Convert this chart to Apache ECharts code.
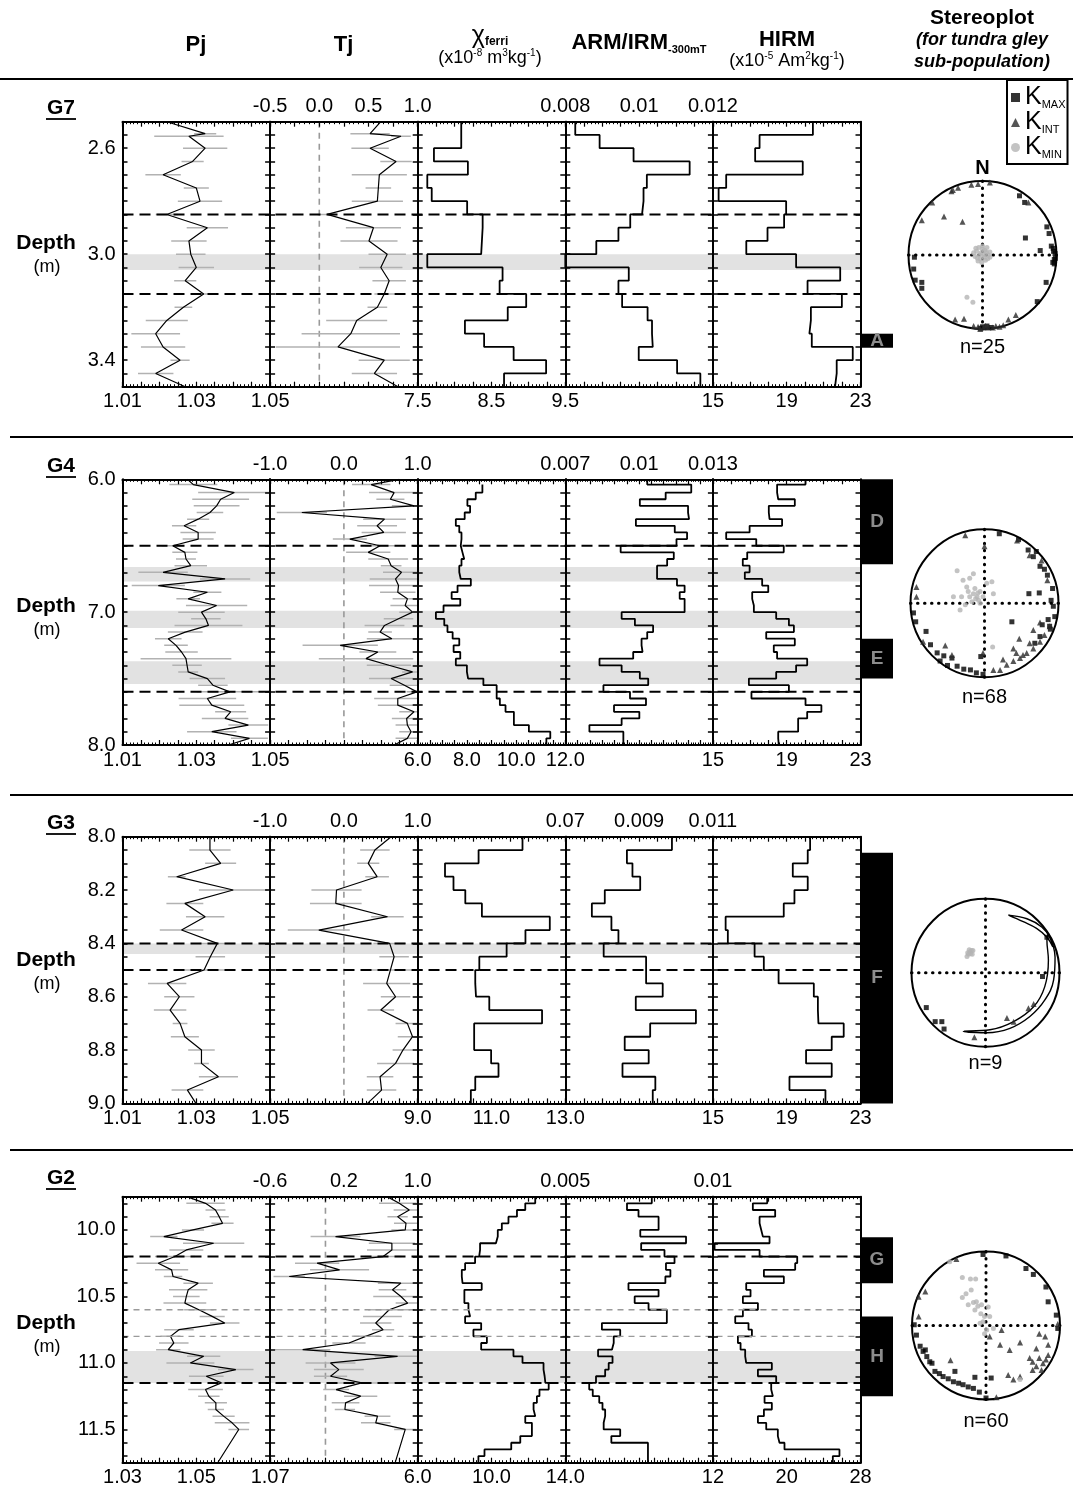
<!DOCTYPE html>
<html><head><meta charset="utf-8">
<script src="https://cdn.jsdelivr.net/npm/echarts@6/dist/echarts.min.js"></script>
<style>html,body{margin:0;padding:0;background:#fff}#c{width:1081px;height:1489px}</style>
</head><body><div id="c"></div>
<script>
// ================= DATA =================
const rowNames = ['G7', 'G4', 'G3', 'G2'];
const stereoN = ['n=25', 'n=68', 'n=9', 'n=60'];

// ---- G7 ----
const g7Depth = [2.5, 2.545, 2.555, 2.6, 2.65, 2.7, 2.75, 2.8, 2.85, 2.9, 2.95, 3.0, 3.05, 3.1, 3.15, 3.2, 3.25, 3.3, 3.35, 3.4, 3.45, 3.5];
const g7Pj = [1.022, 1.0324, 1.028, 1.0324, 1.029, 1.021, 1.030, 1.031, 1.022, 1.033, 1.028, 1.0285, 1.030, 1.027, 1.032, 1.0265, 1.022, 1.019, 1.021, 1.0256, 1.019, 1.027];
const g7PjErr = [0, 0.003, 0.0094, 0.006, 0.003, 0.0048, 0.0034, 0.006, 0.003, 0.0056, 0.0048, 0.004, 0.0048, 0.003, 0.0025, 0.0024, 0.0057, 0.0066, 0.006, 0.0026, 0.0048, 0];
const g7Tj = [0.625, 0.516, 0.83, 0.516, 0.78, 0.61, 0.60, 0.59, 0.08, 0.55, 0.505, 0.69, 0.625, 0.71, 0.66, 0.59, 0.38, 0.32, 0.19, 0.66, 0.56, 0.80];
const g7TjErr = [0, 0.2, 0.1, 0.19, 0.16, 0.28, 0.13, 0.26, 0.1, 0.28, 0.29, 0.19, 0.22, 0.17, 0.1, 0.1, 0.31, 0.5, 0.63, 0.26, 0.23, 0];
const g7ChiBounds = [2.5, 2.6, 2.65, 2.7, 2.75, 2.8, 2.85, 2.9, 3.0, 3.05, 3.1, 3.15, 3.2, 3.25, 3.3, 3.35, 3.4, 3.45, 3.5];
const g7Chi = [8.09, 7.72, 8.18, 7.63, 7.69, 8.17, 8.38, 8.36, 7.63, 8.65, 8.61, 8.97, 8.72, 8.14, 8.40, 8.80, 9.24, 8.67];
const g7StepBounds = [2.5, 2.55, 2.6, 2.65, 2.7, 2.75, 2.8, 2.85, 2.9, 2.95, 3.0, 3.05, 3.1, 3.15, 3.2, 3.25, 3.3, 3.35, 3.4, 3.45, 3.5];
const g7Arm = [0.00827, 0.00893, 0.00985, 0.01137, 0.01021, 0.01012, 0.01008, 0.00976, 0.00944, 0.00884, 0.0080, 0.00972, 0.00944, 0.00954, 0.01023, 0.01035, 0.01037, 0.00999, 0.01103, 0.01166];
const g7Hirm = [20.42, 17.53, 17.29, 19.87, 15.72, 15.31, 18.97, 18.86, 17.96, 16.81, 19.51, 21.90, 20.13, 21.99, 20.31, 20.23, 20.36, 22.58, 21.71, 21.62];
const g7Bands = [[3.0, 3.06]];
const g7Dashes = [2.85, 3.15];
const g7Thin = [];
const g7Zones = [[3.30, 3.353]];
const g7ZoneLabels = ['A'];
const g7DepthLabels = [2.6, 3.0, 3.4];
const g7PjTicks = [[1.01, '1.01'], [1.03, '1.03'], [1.05, '1.05']];
const g7TjTicks = [[-0.5, '-0.5'], [0, '0.0'], [0.5, '0.5'], [1, '1.0']];
const g7ChiTicks = [[7.5, '7.5'], [8.5, '8.5'], [9.5, '9.5']];
const g7ArmTicks = [[0.008, '0.008'], [0.01, '0.01'], [0.012, '0.012']];
const g7HirmTicks = [[15, '15'], [19, '19'], [23, '23']];
const g7Kmax = [[0.50,0.80],[0.57,0.71],[0.87,0.38],[0.90,0.29],[0.58,0.23],[0.78,0.06],[0.955,0.09],[0.98,0.02],[0.985,-0.045],[0.95,-0.10],[0.86,-0.37],[0.74,-0.63],[-0.93,-0.19],[-0.91,-0.34],[-0.82,-0.37],[-0.82,-0.45],[-0.92,-0.03],[0.97,-0.06],[0.96,0.05],[0.0,-0.97],[0.06,-0.96],[-0.03,-0.99],[0.12,-0.98],[0.93,0.12],[0.97,-0.12]];
const g7Kint = [[-0.82,0.47],[-0.52,0.52],[-0.27,0.45],[-0.68,0.71],[-0.40,0.88],[-0.33,0.91],[-0.15,0.95],[-0.06,0.96],[0.10,0.98],[0.62,0.71],[-0.37,-0.87],[-0.25,-0.86],[0.35,-0.87],[0.45,-0.81],[-0.06,-0.97],[0.01,-0.98],[0.08,-0.98],[0.14,-0.98],[0.23,-0.97],[0.28,-0.95],[-0.03,-1.0],[-0.12,-0.96],[0.18,-0.96],[0.04,-0.96],[-0.42,0.86]];
const g7Kmin = [[-0.08,0.05],[-0.05,0.1],[0.0,0.08],[0.05,0.04],[-0.1,-0.02],[-0.03,-0.05],[0.02,0.0],[0.08,0.0],[0.1,-0.03],[-0.06,-0.08],[0.0,0.12],[-0.12,0.03],[0.04,-0.07],[-0.02,0.03],[0.06,0.1],[-0.09,0.09],[0.03,0.06],[-0.04,0.0],[0.07,-0.05],[-0.01,-0.1],[0.1,0.04],[-0.07,-0.04],[0.02,-0.03],[-0.21,-0.57],[-0.13,-0.64]];

// ---- G4 ----
const g4Depth = [6.0, 6.04, 6.1, 6.15, 6.2, 6.25, 6.3, 6.35, 6.4, 6.45, 6.5, 6.55, 6.6, 6.65, 6.7, 6.75, 6.8, 6.85, 6.9, 6.95, 7.0, 7.05, 7.1, 7.15, 7.2, 7.25, 7.3, 7.35, 7.4, 7.45, 7.5, 7.55, 7.6, 7.65, 7.7, 7.75, 7.8, 7.85, 7.9, 7.95, 8.0];
const g4Pj = [1.0276, 1.0292, 1.0403, 1.0366, 1.0355, 1.0337, 1.0305, 1.0267, 1.0305, 1.0305, 1.0236, 1.0269, 1.0272, 1.0285, 1.0210, 1.0378, 1.0197, 1.0330, 1.0278, 1.0355, 1.0314, 1.0326, 1.0333, 1.0270, 1.0224, 1.0245, 1.0260, 1.0272, 1.0275, 1.0278, 1.0330, 1.0345, 1.0391, 1.0330, 1.0342, 1.0393, 1.0378, 1.0441, 1.0342, 1.0444, 1.0387];
const g4PjErr = [0, 0.0065, 0.0098, 0.0077, 0.0062, 0.0036, 0.003, 0.0033, 0.0048, 0.0042, 0.003, 0.0034, 0.0027, 0.0044, 0.0067, 0.0068, 0.0072, 0.0038, 0.0032, 0.0083, 0.0063, 0.004, 0.0092, 0.0047, 0.0036, 0.0032, 0.0044, 0.0123, 0.004, 0.0027, 0.0048, 0.004, 0.009, 0.0078, 0.0088, 0.0042, 0.0063, 0.0054, 0.0067, 0.005, 0];
const g4Tj = [0.75, 0.37, 0.68, 0.63, 0.95, -0.57, 0.55, 0.45, 0.54, 0.08, 0.49, 0.33, 0.60, 0.64, 0.78, 0.70, 0.74, 0.73, 0.86, 0.83, 0.93, 0.74, 0.55, 0.49, 0.65, -0.05, 0.46, 0.30, 0.61, 0.93, 0.64, 0.82, 0.99, 0.73, 0.73, 0.95, 0.85, 0.86, 0.91, 0.86, 0.68];
const g4TjErr = [0, 0.26, 0.34, 0.19, 0.3, 0.34, 0.29, 0.27, 0.3, 0.23, 0.2, 0.3, 0.27, 0.14, 0.25, 0.35, 0.4, 0.24, 0.2, 0.2, 0.18, 0.2, 0.27, 0.16, 0.34, 0.51, 0.25, 0.64, 0.3, 0.14, 0.3, 0.2, 0.14, 0.32, 0.27, 0.2, 0.2, 0.16, 0.16, 0.16, 0];
const g4ChiBounds = [6.04, 6.1, 6.15, 6.2, 6.25, 6.3, 6.35, 6.4, 6.45, 6.5, 6.55, 6.6, 6.65, 6.7, 6.75, 6.8, 6.85, 6.9, 6.95, 7.0, 7.05, 7.1, 7.15, 7.2, 7.25, 7.3, 7.35, 7.4, 7.45, 7.5, 7.55, 7.6, 7.65, 7.7, 7.75, 7.8, 7.85, 7.9, 7.95, 8.0];
const g4Chi = [8.63, 8.36, 8.02, 8.13, 7.91, 7.55, 7.69, 7.78, 7.75, 7.82, 7.89, 7.78, 7.69, 7.75, 8.16, 7.62, 7.38, 7.73, 7.05, 6.74, 7.08, 7.21, 7.42, 7.69, 7.46, 7.73, 7.55, 8.00, 8.05, 8.67, 9.21, 9.21, 9.34, 9.57, 9.91, 9.91, 10.52, 11.39, 11.23];
const g4Arm = [0.01033, 0.01212, 0.01108, 0.01003, 0.01199, 0.01203, 0.00987, 0.01145, 0.01195, 0.01152, 0.00925, 0.01141, 0.01114, 0.01073, 0.01073, 0.01154, 0.01185, 0.01165, 0.01185, 0.01185, 0.00929, 0.00983, 0.01057, 0.01033, 0.01010, 0.01014, 0.00976, 0.00839, 0.00929, 0.01003, 0.01037, 0.00855, 0.00963, 0.01028, 0.00898, 0.01001, 0.00929, 0.00798, 0.00936, 0.00936];
const g4Hirm = [20.02, 18.48, 18.54, 19.44, 18.03, 18.07, 18.75, 16.99, 15.72, 17.35, 18.84, 16.86, 16.62, 16.99, 16.73, 17.67, 18.00, 17.13, 17.22, 17.22, 18.43, 19.12, 19.39, 17.89, 19.44, 18.30, 18.48, 20.11, 19.51, 18.43, 16.95, 19.12, 17.09, 20.02, 20.88, 20.11, 19.62, 19.62, 18.54, 18.57];
const g4Bands = [[6.66, 6.77], [6.99, 7.12], [7.37, 7.54]];
const g4Dashes = [6.5, 7.6];
const g4Thin = [];
const g4Zones = [[6.0, 6.64], [7.2, 7.5]];
const g4ZoneLabels = ['D', 'E'];
const g4DepthLabels = [6.0, 7.0, 8.0];
const g4PjTicks = [[1.01, '1.01'], [1.03, '1.03'], [1.05, '1.05']];
const g4TjTicks = [[-1, '-1.0'], [0, '0.0'], [1, '1.0']];
const g4ChiTicks = [[6, '6.0'], [8, '8.0'], [10, '10.0'], [12, '12.0']];
const g4ArmTicks = [[0.007, '0.007'], [0.01, '0.01'], [0.013, '0.013']];
const g4HirmTicks = [[15, '15'], [19, '19'], [23, '23']];
const g4Kmax = [[0.20,0.94],[0.46,0.86],[0.59,0.72],[0.66,0.63],[0.75,0.50],[0.81,0.46],[0.85,0.38],[0.60,0.13],[0.74,0.14],[0.90,0.04],[0.93,-0.04],[0.95,-0.18],[0.86,-0.22],[0.78,-0.29],[0.88,-0.31],[0.75,-0.45],[0.68,-0.54],[-0.96,-0.13],[-0.93,-0.25],[-0.79,-0.38],[-0.73,-0.56],[-0.64,-0.67],[-0.55,-0.71],[-0.44,-0.74],[-0.37,-0.85],[-0.28,-0.89],[-0.19,-0.90],[-0.11,-0.94],[-0.02,-0.96],[-0.05,-0.72],[0.37,-0.25],[0.92,0.2],[0.89,-0.35],[-0.6,-0.78],[-0.5,-0.84],[0.7,0.7]];
const g4Kint = [[-0.26,0.92],[0.0,0.77],[0.44,0.85],[0.61,0.65],[0.77,0.58],[0.85,0.31],[-0.92,0.22],[-0.92,0.09],[-0.83,-0.52],[-0.53,-0.57],[-0.44,-0.70],[0.12,-0.90],[-0.02,-0.67],[0.39,-0.61],[0.47,-0.48],[0.66,-0.36],[0.75,-0.26],[0.21,-0.90],[0.30,-0.83],[0.39,-0.78],[0.48,-0.74],[0.57,-0.67],[0.66,-0.61],[0.75,-0.52],[0.81,-0.43],[0.88,-0.31],[0.25,-0.76],[0.43,-0.67],[0.61,-0.54],[0.52,-0.70]];
const g4Kmin = [[-0.15,0.13],[-0.10,0.09],[-0.20,0.09],[-0.06,0.16],[-0.24,0.22],[-0.29,0.31],[-0.37,0.44],[-0.15,0.40],[-0.20,0.34],[0.03,0.27],[0.10,0.29],[-0.33,-0.09],[-0.26,-0.02],[-0.08,0.04],[-0.02,0.09],[-0.13,0.20],[0.12,0.13],[-0.22,0.16],[-0.06,0.0],[0.11,-0.59],[-0.42,0.09],[-0.31,0.09],[-0.12,0.06],[-0.17,0.02],[-0.09,0.14]];

// ---- G3 ----
const g3Depth = [8.0, 8.05, 8.1, 8.15, 8.2, 8.25, 8.3, 8.35, 8.4, 8.45, 8.5, 8.55, 8.6, 8.65, 8.7, 8.75, 8.8, 8.85, 8.9, 8.95, 9.0];
const g3Pj = [1.0337, 1.0337, 1.0366, 1.0247, 1.0400, 1.0269, 1.0324, 1.0260, 1.0357, 1.0338, 1.0321, 1.0221, 1.0254, 1.0229, 1.0256, 1.0269, 1.0314, 1.0314, 1.0360, 1.0276, 1.0299];
const g3PjErr = [0, 0.0056, 0.0042, 0.0024, 0.0093, 0.005, 0.0052, 0.0059, 0.0048, 0.004, 0.0057, 0.0052, 0.0041, 0.0044, 0.002, 0.0038, 0.0036, 0.002, 0.0053, 0.0043, 0];
const g3Tj = [0.64, 0.42, 0.33, 0.45, -0.10, -0.11, 0.59, -0.34, 0.62, 0.68, 0.63, 0.58, 0.70, 0.50, 0.86, 0.93, 0.80, 0.70, 0.49, 0.51, 0.32];
const g3TjErr = [0, 0.2, 0.15, 0.16, 0.34, 0.35, 0.22, 0.42, 0.22, 0.2, 0.29, 0.32, 0.2, 0.18, 0.16, 0.2, 0.14, 0.25, 0.18, 0.2, 0];
const g3Chi = [11.84, 10.65, 9.74, 9.97, 10.29, 10.74, 12.58, 11.92, 11.41, 10.67, 10.56, 10.58, 10.94, 12.37, 10.53, 10.53, 10.99, 11.19, 10.56, 10.44];
const g3Arm = [0.00989, 0.00867, 0.00882, 0.00903, 0.00807, 0.00772, 0.00825, 0.00844, 0.00804, 0.00919, 0.00919, 0.00964, 0.00891, 0.01054, 0.00930, 0.00861, 0.00926, 0.00855, 0.00944, 0.00937];
const g3Hirm = [20.27, 20.14, 19.33, 20.14, 19.42, 18.84, 15.69, 15.81, 17.26, 17.76, 18.56, 20.47, 20.69, 20.72, 22.09, 21.44, 20.05, 21.44, 19.15, 21.10];
const g3Bands = [[8.40, 8.44]];
const g3Dashes = [8.4, 8.5];
const g3Thin = [];
const g3Zones = [[8.06, 9.0]];
const g3ZoneLabels = ['F'];
const g3DepthLabels = [8.0, 8.2, 8.4, 8.6, 8.8, 9.0];
const g3PjTicks = [[1.01, '1.01'], [1.03, '1.03'], [1.05, '1.05']];
const g3TjTicks = [[-1, '-1.0'], [0, '0.0'], [1, '1.0']];
const g3ChiTicks = [[9, '9.0'], [11, '11.0'], [13, '13.0']];
const g3ArmTicks = [[0.007, '0.07'], [0.009, '0.009'], [0.011, '0.011']];
const g3HirmTicks = [[15, '15'], [19, '19'], [23, '23']];
const g3Kmax = [[-0.80,-0.47],[-0.68,-0.66],[-0.59,-0.66],[-0.56,-0.76],[0.77,-0.05],[0.83,0.48]];
const g3Kint = [[0.29,-0.61],[0.38,-0.66],[0.58,-0.48],[0.65,-0.42],[-0.15,-0.87]];
const g3Kmin = [[-0.21,0.28],[-0.19,0.30],[-0.23,0.25],[-0.25,0.22],[-0.20,0.26],[-0.17,0.30],[-0.22,0.31],[-0.24,0.27],[-0.18,0.25]];
const g3Conf1 = [[0.31,0.78],[0.56,0.73],[0.76,0.62],[0.87,0.48],[0.91,0.35],[0.83,0.48],[0.69,0.60],[0.51,0.69],[0.31,0.78]];
const g3Conf2 = [[0.85,0.53],[0.94,0.21],[0.92,-0.10],[0.80,-0.37],[0.60,-0.59],[0.33,-0.75],[0.02,-0.81],[-0.30,-0.79],[0.06,-0.77],[0.38,-0.66],[0.65,-0.46],[0.80,-0.19],[0.85,0.17],[0.83,0.44],[0.85,0.53]];

// ---- G2 ----
const g2Depth = [9.755, 9.8, 9.85, 9.9, 9.95, 10.0, 10.05, 10.1, 10.15, 10.2, 10.25, 10.3, 10.35, 10.4, 10.45, 10.5, 10.55, 10.6, 10.65, 10.7, 10.75, 10.8, 10.85, 10.9, 10.95, 11.0, 11.05, 11.1, 11.15, 11.2, 11.25, 11.3, 11.35, 11.4, 11.45, 11.5, 11.75];
const g2Pj = [1.0480, 1.0525, 1.0552, 1.0562, 1.0571, 1.0491, 1.0412, 1.0547, 1.0473, 1.0442, 1.0397, 1.0433, 1.0437, 1.0505, 1.0478, 1.0473, 1.0469, 1.0507, 1.0543, 1.0577, 1.0453, 1.0430, 1.0439, 1.0424, 1.0520, 1.0484, 1.0607, 1.0527, 1.0568, 1.0525, 1.0534, 1.0553, 1.0553, 1.0574, 1.0597, 1.0615, 1.0558];
const g2PjErr = [0, 0.0052, 0.0027, 0.0026, 0.003, 0.003, 0.0037, 0.0083, 0.0046, 0.0054, 0.0059, 0.0045, 0.0025, 0.004, 0.0052, 0.0036, 0.0058, 0.004, 0.0034, 0.004, 0.004, 0.0027, 0.004, 0.0033, 0.0045, 0.0065, 0.0048, 0.0047, 0.0024, 0.0047, 0.0029, 0.003, 0.0022, 0.003, 0.0047, 0.0028, 0];
const g2Tj = [0.684, 0.80, 0.909, 0.782, 0.873, 0.865, 0.109, 0.72, 0.72, 0.625, -0.09, 0.153, -0.393, 0.818, 0.727, 0.818, 0.891, 0.691, 0.618, 0.545, 0.625, 0.436, 0.255, -0.247, 0.782, 0.055, 0.145, 0.055, 0.393, 0.116, 0.382, 0.218, 0.211, 0.564, 0.545, 0.865, 0.756];
const g2TjErr = [0, 0.22, 0.17, 0.11, 0.13, 0.15, 0.27, 0.25, 0.27, 0.2, 0.24, 0.32, 0.17, 0.25, 0.15, 0.3, 0.13, 0.23, 0.21, 0.17, 0.12, 0.15, 0.18, 0.3, 0.25, 0.27, 0.27, 0.18, 0.35, 0.14, 0.18, 0.15, 0.11, 0.14, 0.16, 0.12, 0];
const g2StepBounds = [9.755, 9.8, 9.85, 9.9, 9.95, 10.0, 10.05, 10.1, 10.15, 10.2, 10.25, 10.3, 10.35, 10.4, 10.45, 10.5, 10.55, 10.6, 10.65, 10.7, 10.75, 10.8, 10.85, 10.9, 10.95, 11.0, 11.05, 11.1, 11.15, 11.2, 11.25, 11.3, 11.35, 11.4, 11.45, 11.5, 11.55, 11.6, 11.65, 11.7, 11.75];
const g2Chi = [12.37, 11.83, 11.38, 10.92, 10.56, 10.34, 10.24, 9.38, 9.33, 9.11, 8.57, 8.39, 8.43, 9.47, 8.53, 8.53, 8.75, 8.84, 8.57, 9.44, 9.02, 9.75, 9.44, 11.19, 11.68, 12.82, 12.88, 12.92, 13.10, 12.6, 12.46, 12.28, 12.37, 11.83, 12.19, 12.19, 11.56, 11.07, 9.62, 9.29];
const g2Arm = [0.00793, 0.00709, 0.00748, 0.00816, 0.00816, 0.00754, 0.00909, 0.00757, 0.00836, 0.00870, 0.00841, 0.00856, 0.00839, 0.00714, 0.00816, 0.00735, 0.00782, 0.00844, 0.00844, 0.00624, 0.00686, 0.00664, 0.00658, 0.00611, 0.00660, 0.00647, 0.00635, 0.00604, 0.00581, 0.00593, 0.00615, 0.00626, 0.00635, 0.0063, 0.0063, 0.00686, 0.00656, 0.0078, 0.0078, 0.0078];
const g2Hirm = [17.89, 16.33, 18.75, 17.06, 17.24, 17.42, 18.14, 12.18, 17.06, 21.14, 20.92, 17.53, 19.69, 15.61, 16.08, 15.25, 16.88, 15.25, 14.42, 15.86, 16.23, 14.71, 15.0, 15.5, 15.61, 18.39, 16.88, 18.86, 18.32, 18.5, 17.6, 18.39, 17.53, 16.88, 17.78, 19.04, 19.22, 19.76, 25.72, 25.0];
const g2Bands = [[10.91, 11.15]];
const g2Dashes = [10.2, 11.15];
const g2Thin = [10.6, 10.8];
const g2Zones = [[10.055, 10.40], [10.65, 11.25]];
const g2ZoneLabels = ['G', 'H'];
const g2DepthLabels = [10.0, 10.5, 11.0, 11.5];
const g2PjTicks = [[1.03, '1.03'], [1.05, '1.05'], [1.07, '1.07']];
const g2TjTicks = [[-0.6, '-0.6'], [0.2, '0.2'], [1, '1.0']];
const g2ChiTicks = [[6, '6.0'], [10, '10.0'], [14, '14.0']];
const g2ArmTicks = [[0.005, '0.005'], [0.01, '0.01']];
const g2HirmTicks = [[12, '12'], [20, '20'], [28, '28']];
const g2Kmax = [[-0.04,0.96],[0.27,0.94],[0.54,0.77],[0.64,0.69],[0.81,0.52],[0.84,0.32],[0.95,0.14],[0.97,-0.04],[-0.97,0.01],[-0.94,-0.13],[-0.89,-0.28],[-0.85,-0.35],[-0.80,-0.42],[-0.76,-0.49],[-0.69,-0.62],[-0.63,-0.65],[-0.58,-0.69],[-0.51,-0.72],[-0.44,-0.76],[-0.37,-0.78],[-0.31,-0.80],[-0.24,-0.83],[-0.17,-0.85],[-0.09,-0.90],[-0.42,-0.62],[-0.15,-0.70],[0.07,-0.71],[-0.73,-0.51],[-0.82,-0.33],[0.0,-0.98]];
const g2Kint = [[-0.91,0.39],[-0.82,0.46],[-0.48,-0.47],[0.05,-0.15],[0.21,-0.06],[0.19,-0.26],[0.32,-0.33],[0.46,-0.23],[0.72,-0.11],[0.80,-0.15],[0.84,-0.26],[0.68,-0.31],[0.59,-0.44],[0.63,-0.49],[0.72,-0.44],[0.77,-0.51],[0.81,-0.46],[0.68,-0.55],[0.75,-0.60],[0.63,-0.60],[0.84,-0.40],[0.30,-0.67],[0.37,-0.73],[0.46,-0.69],[0.14,-0.97],[-0.91,0.12],[0.97,0.02],[-0.4,0.9]];
const g2Kmin = [[-0.49,0.86],[-0.32,0.65],[-0.21,0.63],[-0.14,0.63],[-0.27,0.43],[-0.32,0.38],[-0.24,0.28],[-0.17,0.31],[-0.11,0.26],[-0.07,0.16],[-0.02,0.12],[-0.15,0.21],[-0.06,0.28],[0.03,0.25],[0.05,0.12],[-0.04,0.05],[0.01,-0.06],[-0.02,-0.11],[0.10,-0.04],[-0.20,0.48],[0.46,-0.73],[-0.08,0.03],[-0.13,0.32]];

// ================= LAYOUT / STYLE =================
const FONT = "'Liberation Sans', Arial, Helvetica, sans-serif";
const BOLDN = "'Liberation Sans Narrow', 'Liberation Sans', Arial, sans-serif";
const rowTop = [121.7, 479.3, 836.7, 1196.7];
const rowH = [265, 265.7, 266.7, 266];
const panelX = [122.5, 270.1, 417.7, 565.3, 712.9];
const panelW = 147.6;
const zoneX = 861, zoneW = 32;
const stereoC = [[982.5, 255], [984.5, 603.3], [985.5, 972.8], [986, 1325.5]];
const stereoR = 74;

const rows = [
  {dmin: 2.5, dmax: 3.5, dtick0: 2.5, dstep: 0.05, dlabels: g7DepthLabels, depth: g7Depth, pj: g7Pj, pjErr: g7PjErr, tj: g7Tj, tjErr: g7TjErr,
   steps: [[g7ChiBounds, g7Chi], [g7StepBounds, g7Arm], [g7StepBounds, g7Hirm]],
   ax: [{min: 1.01, max: 1.05, iv: 0.005, lab: g7PjTicks, pos: 'bottom'}, {min: -0.5, max: 1, iv: 0.25, lab: g7TjTicks, pos: 'top'},
        {min: 7.5, max: 9.5, iv: 0.25, lab: g7ChiTicks, pos: 'bottom'}, {min: 0.008, max: 0.012, iv: 0.0005, lab: g7ArmTicks, pos: 'top'},
        {min: 15, max: 23, iv: 1, lab: g7HirmTicks, pos: 'bottom'}],
   bands: g7Bands, dashes: g7Dashes, thin: g7Thin, zones: g7Zones, zoneLabels: g7ZoneLabels, kmax: g7Kmax, kint: g7Kint, kmin: g7Kmin, conf: []},
  {dmin: 6.0, dmax: 8.0, dtick0: 6.0, dstep: 0.1, dlabels: g4DepthLabels, depth: g4Depth, pj: g4Pj, pjErr: g4PjErr, tj: g4Tj, tjErr: g4TjErr,
   steps: [[g4ChiBounds, g4Chi], [g4Depth, g4Arm], [g4Depth, g4Hirm]],
   ax: [{min: 1.01, max: 1.05, iv: 0.005, lab: g4PjTicks, pos: 'bottom'}, {min: -1, max: 1, iv: 0.25, lab: g4TjTicks, pos: 'top'},
        {min: 6, max: 12, iv: 0.5, lab: g4ChiTicks, pos: 'bottom'}, {min: 0.007, max: 0.013, iv: 0.0005, lab: g4ArmTicks, pos: 'top'},
        {min: 15, max: 23, iv: 1, lab: g4HirmTicks, pos: 'bottom'}],
   bands: g4Bands, dashes: g4Dashes, thin: g4Thin, zones: g4Zones, zoneLabels: g4ZoneLabels, kmax: g4Kmax, kint: g4Kint, kmin: g4Kmin, conf: []},
  {dmin: 8.0, dmax: 9.0, dtick0: 8.0, dstep: 0.05, dlabels: g3DepthLabels, depth: g3Depth, pj: g3Pj, pjErr: g3PjErr, tj: g3Tj, tjErr: g3TjErr,
   steps: [[g3Depth, g3Chi], [g3Depth, g3Arm], [g3Depth, g3Hirm]],
   ax: [{min: 1.01, max: 1.05, iv: 0.005, lab: g3PjTicks, pos: 'bottom'}, {min: -1, max: 1, iv: 0.25, lab: g3TjTicks, pos: 'top'},
        {min: 9, max: 13, iv: 0.5, lab: g3ChiTicks, pos: 'bottom'}, {min: 0.007, max: 0.011, iv: 0.0005, lab: g3ArmTicks, pos: 'top'},
        {min: 15, max: 23, iv: 1, lab: g3HirmTicks, pos: 'bottom'}],
   bands: g3Bands, dashes: g3Dashes, thin: g3Thin, zones: g3Zones, zoneLabels: g3ZoneLabels, kmax: g3Kmax, kint: g3Kint, kmin: g3Kmin, conf: [g3Conf1, g3Conf2]},
  {dmin: 9.75, dmax: 11.75, dtick0: 9.8, dstep: 0.1, dlabels: g2DepthLabels, depth: g2Depth, pj: g2Pj, pjErr: g2PjErr, tj: g2Tj, tjErr: g2TjErr,
   steps: [[g2StepBounds, g2Chi], [g2StepBounds, g2Arm], [g2StepBounds, g2Hirm]],
   ax: [{min: 1.03, max: 1.07, iv: 0.005, lab: g2PjTicks, pos: 'bottom'}, {min: -0.6, max: 1, iv: 0.2, lab: g2TjTicks, pos: 'top'},
        {min: 6, max: 14, iv: 1, lab: g2ChiTicks, pos: 'bottom'}, {min: 0.005, max: 0.01, iv: 0.0005, lab: g2ArmTicks, pos: 'top'},
        {min: 12, max: 28, iv: 2, lab: g2HirmTicks, pos: 'bottom'}],
   bands: g2Bands, dashes: g2Dashes, thin: g2Thin, zones: g2Zones, zoneLabels: g2ZoneLabels, kmax: g2Kmax, kint: g2Kint, kmin: g2Kmin, conf: []}
];

// ================= BUILD =================
const grids = [], xAxes = [], yAxes = [], series = [], polar = [], angleAxis = [], radiusAxis = [];
function addGrid(g) { grids.push(Object.assign({show: false, containLabel: false, outerBoundsMode: 'none'}, g)); return grids.length - 1; }

function xAx(gi, a, pos, showLabels) {
  return {type: 'value', gridIndex: gi, position: pos, min: a.min, max: a.max, interval: a.iv, z: 5,
    axisLine: {show: true, onZero: false, lineStyle: {color: '#000', width: 2}},
    axisTick: {show: true, inside: true, length: 5, lineStyle: {color: '#000', width: 1.2}},
    minorTick: {show: true, splitNumber: 5, length: 2.5, lineStyle: {color: '#000', width: 1}},
    splitLine: {show: false},
    axisLabel: showLabels ? {show: true, customValues: a.lab.map(p => p[0]),
      formatter: v => { const p = a.lab.find(q => Math.abs(q[0] - v) < 1e-9); return p ? p[1] : ''; },
      fontSize: 20, fontFamily: FONT, color: '#000', margin: 5} : {show: false}};
}
function yAx(gi, r, pos, showLabels) {
  return {type: 'value', gridIndex: gi, position: pos, inverse: true, min: r.dmin, max: r.dmax, z: 5,
    axisLine: {show: true, onZero: false, lineStyle: {color: '#000', width: 2}},
    axisTick: {show: true, inside: true, length: 5, customValues: r.dticks, lineStyle: {color: '#000', width: 1.5}},
    splitLine: {show: false},
    axisLabel: showLabels ? {show: true, customValues: r.dlabels, formatter: v => v.toFixed(1),
      fontSize: 20, fontFamily: FONT, color: '#000', margin: 7} : {show: false}};
}
function errRender(params, api) {
  const v = api.value(0), d = api.value(1), e = api.value(2);
  if (!e) return null;
  const a = api.coord([v - e, d]), b = api.coord([v + e, d]);
  return {type: 'line', shape: {x1: a[0], y1: a[1], x2: b[0], y2: b[1]}, style: {stroke: '#b2b2b2', lineWidth: 1.5}};
}
function bandRender(params, api) {
  const cs = params.coordSys;
  const y1 = api.coord([0.5, api.value(1)])[1], y2 = api.coord([0.5, api.value(2)])[1];
  return {type: 'rect', shape: {x: cs.x, y: Math.min(y1, y2), width: cs.width, height: Math.abs(y2 - y1)}, style: {fill: '#e2e2e2'}};
}
function hlineRender(params, api) {
  const cs = params.coordSys;
  const y = api.coord([0.5, api.value(1)])[1];
  const thin = api.value(2) === 1;
  return {type: 'line', shape: {x1: cs.x, y1: y, x2: cs.x + cs.width, y2: y},
    style: {stroke: thin ? '#9a9a9a' : '#000', lineWidth: thin ? 1.3 : 2, lineDash: thin ? [6, 5] : [11, 6]}};
}
function zeroRender(params, api) {
  const cs = params.coordSys;
  const x = api.coord([0, api.value(1)])[0];
  return {type: 'line', shape: {x1: x, y1: cs.y, x2: x, y2: cs.y + cs.height}, style: {stroke: '#999', lineWidth: 1.6, lineDash: [6, 5]}};
}
function zoneRender(labels) {
  return function (params, api) {
    const cs = params.coordSys;
    const y1 = api.coord([0.5, api.value(1)])[1], y2 = api.coord([0.5, api.value(2)])[1];
    return {type: 'group', children: [
      {type: 'rect', shape: {x: cs.x, y: y1, width: cs.width, height: y2 - y1}, style: {fill: '#000'}},
      {type: 'text', x: cs.x + cs.width / 2, y: (y1 + y2) / 2,
       style: {text: labels[params.dataIndex], fill: '#8c8c8c', font: 'bold 19px ' + FONT, textAlign: 'center', textVerticalAlign: 'middle', align: 'center', verticalAlign: 'middle'}}
    ]};
  };
}
function stepData(bounds, vals) {
  const out = vals.map((v, i) => [v, bounds[i]]);
  out.push([vals[vals.length - 1], bounds[vals.length]]);
  return out;
}

rows.forEach((r, ri) => {
  const top = rowTop[ri], h = rowH[ri];
  r.dticks = [];
  for (let v = r.dtick0; v <= r.dmax + 1e-9; v += r.dstep) r.dticks.push(+v.toFixed(3));

  // overlay (bands + dashed lines)
  const og = addGrid({left: panelX[0], top: top, width: panelX[4] + panelW - panelX[0], height: h});
  const ox = xAxes.push({type: 'value', gridIndex: og, min: 0, max: 1, show: false}) - 1;
  const oy = yAxes.push({type: 'value', gridIndex: og, min: r.dmin, max: r.dmax, inverse: true, show: false}) - 1;
  series.push({type: 'custom', xAxisIndex: ox, yAxisIndex: oy, silent: true, z: 1, renderItem: bandRender,
    encode: {x: 0, y: [1, 2]}, data: r.bands.map(b => [0.5, b[0], b[1]])});
  series.push({type: 'custom', xAxisIndex: ox, yAxisIndex: oy, silent: true, z: 4, renderItem: hlineRender,
    encode: {x: 0, y: 1}, data: r.dashes.map(d => [0.5, d, 0]).concat(r.thin.map(d => [0.5, d, 1]))});

  for (let p = 0; p < 5; p++) {
    const gi = addGrid({left: panelX[p], top: top, width: panelW, height: h});
    const a = r.ax[p];
    const xb = xAxes.push(xAx(gi, a, 'bottom', a.pos === 'bottom')) - 1;
    xAxes.push(xAx(gi, a, 'top', a.pos === 'top'));
    const yl = yAxes.push(yAx(gi, r, 'left', p === 0)) - 1;
    yAxes.push(yAx(gi, r, 'right', false));
    if (p < 2) {
      const vals = p === 0 ? r.pj : r.tj, errs = p === 0 ? r.pjErr : r.tjErr;
      if (p === 1) {
        series.push({type: 'custom', xAxisIndex: xb, yAxisIndex: yl, silent: true, z: 1.5, renderItem: zeroRender,
          encode: {x: 0, y: 1}, data: [[0, r.dmin]]});
      }
      series.push({type: 'custom', xAxisIndex: xb, yAxisIndex: yl, silent: true, z: 2, clip: true, renderItem: errRender,
        encode: {x: 0, y: 1}, data: r.depth.map((d, i) => [vals[i], d, errs[i]])});
      series.push({type: 'line', xAxisIndex: xb, yAxisIndex: yl, silent: true, z: 3, symbol: 'none', clip: true,
        lineStyle: {color: '#000', width: 1.2}, data: r.depth.map((d, i) => [vals[i], d])});
    } else {
      const s = r.steps[p - 2];
      series.push({type: 'line', xAxisIndex: xb, yAxisIndex: yl, silent: true, z: 3, symbol: 'none', step: 'start', clip: true,
        lineStyle: {color: '#000', width: 1.8}, data: stepData(s[0], s[1])});
    }
  }

  // zone bars
  const zg = addGrid({left: zoneX, top: top, width: zoneW, height: h});
  const zx = xAxes.push({type: 'value', gridIndex: zg, min: 0, max: 1, show: false}) - 1;
  const zy = yAxes.push({type: 'value', gridIndex: zg, min: r.dmin, max: r.dmax, inverse: true, show: false}) - 1;
  series.push({type: 'custom', xAxisIndex: zx, yAxisIndex: zy, silent: true, z: 3, renderItem: zoneRender(r.zoneLabels),
    encode: {x: 0, y: [1, 2]}, data: r.zones.map(z => [0.5, z[0], z[1]])});

  // stereoplot
  const c = stereoC[ri];
  polar.push({center: c, radius: stereoR});
  angleAxis.push({polarIndex: ri, type: 'value', min: 0, max: 360, interval: 90, startAngle: 90, clockwise: true, z: 1,
    axisLine: {show: true, lineStyle: {color: '#000', width: 2}}, axisTick: {show: false}, axisLabel: {show: false},
    splitLine: {show: true, lineStyle: {color: '#000', width: 3, type: [0.5, 6.5], cap: 'round'}}});
  radiusAxis.push({polarIndex: ri, type: 'value', min: 0, max: 1, axisLine: {show: false}, axisTick: {show: false},
    axisLabel: {show: false}, splitLine: {show: false}});
  const sg = addGrid({left: c[0] - stereoR, top: c[1] - stereoR, width: 2 * stereoR, height: 2 * stereoR});
  const sx = xAxes.push({type: 'value', gridIndex: sg, min: -1, max: 1, show: false}) - 1;
  const sy = yAxes.push({type: 'value', gridIndex: sg, min: -1, max: 1, show: false}) - 1;
  r.conf.forEach(cf => series.push({type: 'line', name: 'conf', xAxisIndex: sx, yAxisIndex: sy, silent: true, z: 3, symbol: 'none',
    smooth: 0.4, lineStyle: {color: '#000', width: 1.4}, data: cf}));
  series.push({type: 'scatter', name: 'KMAX', xAxisIndex: sx, yAxisIndex: sy, symbol: 'rect', symbolSize: 5, z: 4,
    itemStyle: {color: '#000'}, data: r.kmax});
  series.push({type: 'scatter', name: 'KINT', xAxisIndex: sx, yAxisIndex: sy, symbol: 'triangle', symbolSize: 6, z: 4,
    itemStyle: {color: '#2a2a2a'}, data: r.kint});
  series.push({type: 'scatter', name: 'KMIN', xAxisIndex: sx, yAxisIndex: sy, symbol: 'circle', symbolSize: 5, z: 4,
    itemStyle: {color: '#b4b4b4'}, data: r.kmin});
});

// ================= TEXT GRAPHICS =================
function T(x, y, text, style) {
  return {type: 'text', x: x, y: y, z: 10, silent: true,
    style: Object.assign({text: text, fill: '#000', fontSize: 20, fontFamily: FONT, textAlign: 'center', textVerticalAlign: 'middle', align: 'center', verticalAlign: 'middle'}, style || {})};
}
function L(x1, y1, x2, y2, w) {
  return {type: 'line', z: 10, silent: true, shape: {x1: x1, y1: y1, x2: x2, y2: y2}, style: {stroke: '#000', lineWidth: w || 2}};
}
const gfx = [
  L(0, 79, 1073, 79), L(10, 437, 1073, 437), L(10, 795, 1073, 795), L(10, 1150, 1073, 1150),
  T(196, 45, 'Pj', {fontSize: 22, fontWeight: 'bold', fontFamily: BOLDN}),
  T(343.5, 45, 'Tj', {fontSize: 22, fontWeight: 'bold', fontFamily: BOLDN}),
  T(490, 36, '{a|χ}{b|ferri}', {rich: {a: {fontSize: 25, fontFamily: FONT}, b: {fontSize: 12, fontWeight: 'bold', fontFamily: BOLDN, padding: [12, 0, 0, 0]}}}),
  T(490, 58, '(x10{s|-8} m{s|3}kg{s|-1})', {fontSize: 18, fontFamily: BOLDN, rich: {s: {fontSize: 10, fontFamily: BOLDN, padding: [0, 0, 9, 0]}}}),
  T(639, 43, '{a|ARM/IRM}{b|-300mT}', {rich: {a: {fontSize: 22, fontWeight: 'bold', fontFamily: BOLDN}, b: {fontSize: 11, fontWeight: 'bold', fontFamily: BOLDN, padding: [14, 0, 0, 0]}}}),
  T(787, 40, 'HIRM', {fontSize: 22, fontWeight: 'bold', fontFamily: BOLDN}),
  T(787, 61, '(x10{s|-5} Am{s|2}kg{s|-1})', {fontSize: 18, fontFamily: BOLDN, rich: {s: {fontSize: 10, fontFamily: BOLDN, padding: [0, 0, 9, 0]}}}),
  T(982, 18, 'Stereoplot', {fontSize: 21, fontWeight: 'bold', fontFamily: BOLDN}),
  T(982, 40, '(for tundra gley', {fontSize: 18, fontWeight: 'bold', fontStyle: 'italic', fontFamily: BOLDN}),
  T(982, 62, 'sub-population)', {fontSize: 18, fontWeight: 'bold', fontStyle: 'italic', fontFamily: BOLDN}),
  T(982.5, 168, 'N', {fontSize: 20, fontWeight: 'bold'})
];
const rowLabelY = [108, 466, 823, 1178];
const depthLabelY = [243, 606, 960, 1323];
const nLabelY = [347, 697, 1063, 1421];
rowNames.forEach((n, i) => {
  gfx.push(T(61, rowLabelY[i], n, {fontSize: 21, fontWeight: 'bold', fontFamily: BOLDN}));
  gfx.push(L(46, rowLabelY[i] + 11, 76, rowLabelY[i] + 11, 1.8));
  gfx.push(T(46, depthLabelY[i], 'Depth', {fontSize: 21, fontWeight: 'bold', fontFamily: BOLDN}));
  gfx.push(T(47, depthLabelY[i] + 24, '(m)', {fontSize: 18}));
  gfx.push(T(stereoC[i][0], nLabelY[i], stereoN[i], {fontSize: 20}));
});

const option = {
  animation: false,
  backgroundColor: '#fff',
  grid: grids, xAxis: xAxes, yAxis: yAxes, polar: polar, angleAxis: angleAxis, radiusAxis: radiusAxis,
  legend: {
    show: true, orient: 'vertical', left: 1007, top: 80, selectedMode: false,
    data: [{name: 'KMAX', icon: 'rect'}, {name: 'KINT', icon: 'triangle'}, {name: 'KMIN', icon: 'circle'}],
    itemWidth: 9, itemHeight: 9, itemGap: 0, padding: [5, 2, 4, 4],
    borderColor: '#000', borderWidth: 2, backgroundColor: '#fff',
    formatter: n => '{k|K}{s|' + n.slice(1) + '}',
    textStyle: {color: '#000', fontFamily: FONT, fontSize: 24,
      rich: {k: {fontSize: 25, fontFamily: FONT, color: '#000', lineHeight: 25}, s: {fontSize: 11, fontFamily: FONT, color: '#000', padding: [14, 0, 0, 0]}}}
  },
  graphic: {elements: gfx},
  series: series
};
const chart = echarts.init(document.getElementById('c'), null, {renderer: 'canvas', width: 1081, height: 1489});
chart.setOption(option);
</script></body></html>
